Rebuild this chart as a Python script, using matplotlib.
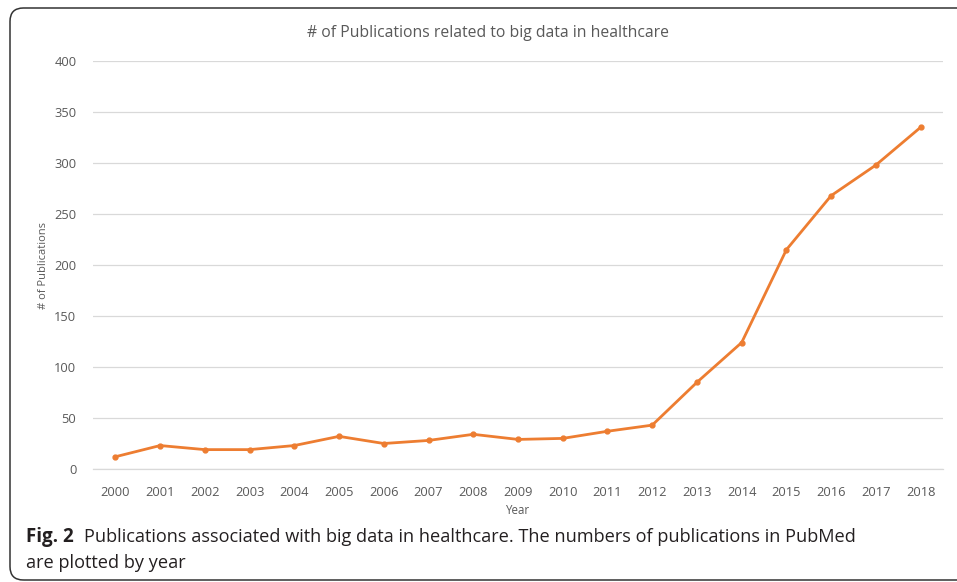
import matplotlib
matplotlib.use("Agg")
import matplotlib.pyplot as plt
from matplotlib.patches import FancyBboxPatch

years = ["2000", "2001", "2002", "2003", "2004", "2005", "2006", "2007", "2008", "2009",
         "2010", "2011", "2012", "2013", "2014", "2015", "2016", "2017", "2018"]
publications = [12, 23, 19, 19, 23, 32, 25, 28, 34, 29, 30, 37, 43, 85, 124, 215, 268, 298, 335]
y_ticks = [0, 50, 100, 150, 200, 250, 300, 350, 400]

title = "# of Publications related to big data in healthcare"
caption_bold = "Fig. 2"
caption_line1 = "Publications associated with big data in healthcare. The numbers of publications in PubMed"
caption_line2 = "are plotted by year"

plt.rcParams['font.family'] = ['Open Sans', 'DejaVu Sans']

W, H = 957, 582
fig = plt.figure(figsize=(W / 100, H / 100), dpi=100)
fig.patch.set_facecolor("white")

# rounded frame
frame = FancyBboxPatch((10 / W, 2 / H), 1.2, (580 - 8) / H,
                       boxstyle="round,pad=0,rounding_size=0.014",
                       transform=fig.transFigure, fill=False,
                       edgecolor="#333333", linewidth=1.1, mutation_aspect=W / H)
fig.add_artist(frame)

ax = fig.add_axes([93 / W, 1 - 469 / H, (943 - 93) / W, (469 - 61) / H])
x = list(range(len(years)))
ax.plot(x, publications, color="#ED7D31", linewidth=2.0, marker="o", markersize=3.5,
        solid_joinstyle="round")
ax.set_xlim(-0.5, len(years) - 0.5)
ax.set_ylim(0, 400)
ax.set_yticks(y_ticks)
ax.set_xticks(x)
ax.set_xticklabels(years)
ax.grid(axis="y", color="#d9d9d9", linewidth=0.9)
ax.set_axisbelow(True)
for s in ["top", "right", "left"]:
    ax.spines[s].set_visible(False)
ax.spines["bottom"].set_color("#d9d9d9")
ax.spines["bottom"].set_linewidth(0.9)
ax.tick_params(axis="both", length=0, colors="#595959", labelsize=9.3)
ax.tick_params(axis="x", pad=12)
ax.tick_params(axis="y", pad=12)

fig.text(488 / W, 1 - 33 / H, title, ha="center", va="center", fontsize=11.3, color="#595959")
fig.text(43 / W, 1 - 266 / H, "# of Publications", rotation=90, ha="center", va="center",
         fontsize=8, color="#595959")
fig.text(518 / W, 1 - 510 / H, "Year", ha="center", va="center", fontsize=8.3, color="#595959")

t1 = fig.text(26 / W, 1 - 537 / H, caption_bold, ha="left", va="center", fontsize=13.5,
              fontweight="bold", color="#231f20")
fig.canvas.draw()
bb = t1.get_window_extent(fig.canvas.get_renderer())
fig.text((bb.x1 + 10) / W, 1 - 537 / H, caption_line1, ha="left", va="center", fontsize=13.1,
         color="#231f20")
fig.text(26 / W, 1 - 563 / H, caption_line2, ha="left", va="center", fontsize=13.1,
         color="#231f20")

fig.savefig("out.png", dpi=100, facecolor="white")
